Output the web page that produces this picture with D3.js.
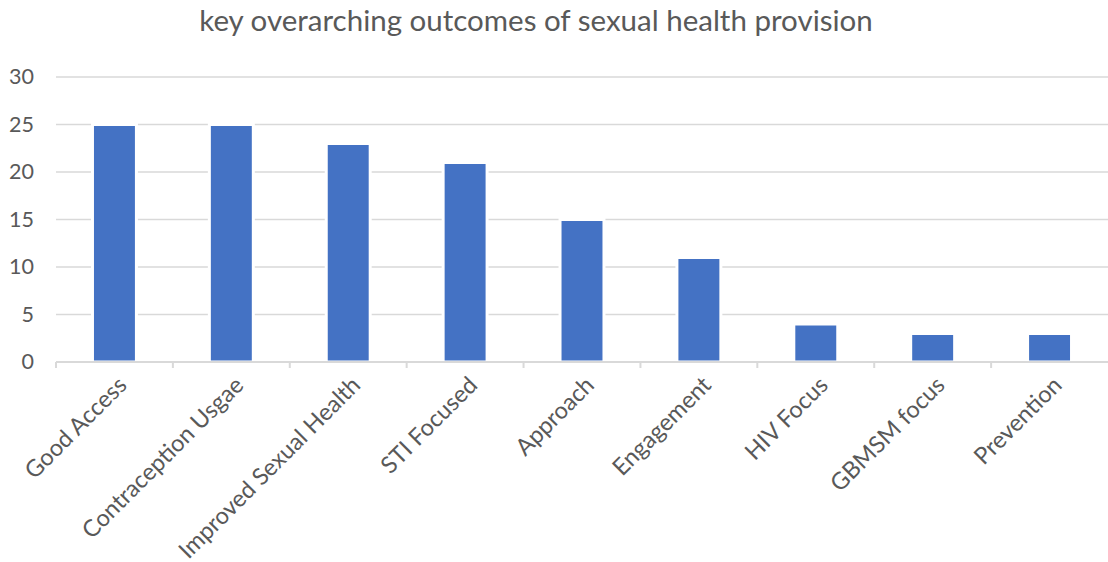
<!DOCTYPE html>
<html>
<head>
<meta charset="utf-8">
<script src="https://cdn.jsdelivr.net/npm/d3@7"></script>
<style>
  html, body { margin: 0; padding: 0; background: #fff; }
  svg text { font-family: Lato, "Open Sans", sans-serif; fill: #595959; }
</style>
</head>
<body>
<svg id="chart" width="1108" height="562"></svg>
<script>
// Outcome categories and the number of mentions for each
const categories = ["Good Access", "Contraception Usgae", "Improved Sexual Health", "STI Focused",
  "Approach", "Engagement", "HIV Focus", "GBMSM focus", "Prevention"];
const counts = [25, 25, 23, 21, 15, 11, 4, 3, 3];
const yTicks = [0, 5, 10, 15, 20, 25, 30];
const title = "key overarching outcomes of sexual health provision";

const svg = d3.select("#chart");
const plotLeft = 56, plotRight = 1108, plotTop = 77, plotBottom = 362;

const x = d3.scaleBand().domain(categories).range([plotLeft, plotRight]).paddingInner(0.624).paddingOuter(0.312);
const xBand = d3.scaleBand().domain(categories).range([plotLeft, plotRight]);
const y = d3.scaleLinear().domain([0, 30]).range([plotBottom, plotTop]);

// Title
svg.append("text")
  .attr("x", 536).attr("y", 31)
  .attr("text-anchor", "middle")
  .attr("font-size", 29.5)
  .text(title);

// Horizontal gridlines
svg.append("g")
  .selectAll("line")
  .data(yTicks.filter(d => d > 0))
  .join("line")
  .attr("x1", plotLeft).attr("x2", plotRight)
  .attr("y1", d => y(d)).attr("y2", d => y(d))
  .attr("stroke", "#d9d9d9").attr("stroke-width", 1.5);

// Y axis labels
const yAxis = d3.axisLeft(y).tickValues(yTicks).tickSize(0).tickPadding(0);
svg.append("g")
  .attr("transform", `translate(34,0)`)
  .call(yAxis)
  .call(g => g.select(".domain").remove())
  .call(g => g.selectAll("text")
    .attr("font-size", 21.5)
    .attr("fill", "#595959")
    .attr("font-family", "Lato, 'Open Sans', sans-serif"));

// Bars
svg.append("g")
  .selectAll("rect")
  .data(categories.map((c, i) => ({ c, v: counts[i] })))
  .join("rect")
  .attr("x", d => x(d.c))
  .attr("width", x.bandwidth())
  .attr("y", d => y(d.v))
  .attr("height", d => plotBottom - y(d.v))
  .attr("fill", "#4472c4")
  .attr("stroke", "#ffffff")
  .attr("stroke-width", 3);

// X axis baseline and boundary ticks
svg.append("line")
  .attr("x1", plotLeft).attr("x2", plotRight)
  .attr("y1", plotBottom).attr("y2", plotBottom)
  .attr("stroke", "#d9d9d9").attr("stroke-width", 2);
const boundaries = categories.map(c => xBand(c));
svg.append("g")
  .selectAll("line")
  .data(boundaries)
  .join("line")
  .attr("x1", d => d).attr("x2", d => d)
  .attr("y1", plotBottom).attr("y2", plotBottom + 6)
  .attr("stroke", "#d9d9d9").attr("stroke-width", 2);

// Rotated category labels
svg.append("g")
  .selectAll("text")
  .data(categories)
  .join("text")
  .attr("transform", d => `translate(${xBand(d) + xBand.bandwidth() / 2 + 2},${plotBottom + 13}) rotate(-45)`)
  .attr("text-anchor", "end")
  .attr("dy", "0.7em")
  .attr("font-size", 23.5)
  .text(d => d);
</script>
</body>
</html>
